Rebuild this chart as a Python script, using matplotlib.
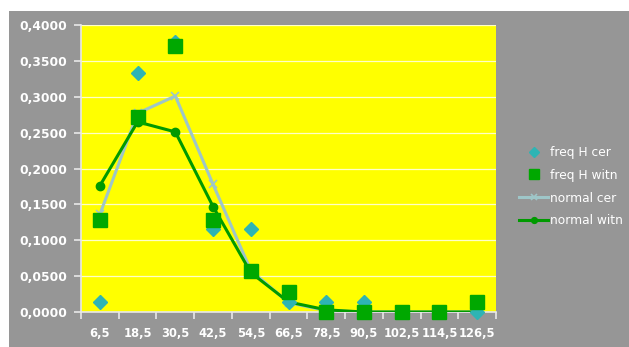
import matplotlib.pyplot as plt
from matplotlib.patches import Rectangle
from matplotlib.ticker import FuncFormatter, FixedLocator

# bin centres and frequencies
bins = ["6,5", "18,5", "30,5", "42,5", "54,5", "66,5", "78,5", "90,5", "102,5", "114,5", "126,5"]
freq_cer = [1/69, 23/69, 26/69, 8/69, 8/69, 1/69, 1/69, 1/69, 0.0, 0.0, 0.0]
freq_witn = [9/70, 19/70, 26/70, 9/70, 4/70, 2/70, 0.0, 0.0, 0.0, 0.0, 1/70]
normal_cer = [0.136, 0.277, 0.301, 0.178, 0.058, 0.013, 0.002, 0.0, 0.0, 0.0, 0.0]
normal_witn = [0.176, 0.265, 0.251, 0.147, 0.055, 0.014, 0.003, 0.0, 0.0, 0.0, 0.0]

W, H = 629, 347
fig = plt.figure(figsize=(W / 100, H / 100), dpi=100, facecolor="white")
# grey chart area
fig.add_artist(Rectangle((9 / W, 0), (W - 9) / W, (H - 11) / H,
                         transform=fig.transFigure, facecolor="#969696",
                         edgecolor="none", zorder=-10))

ax = fig.add_axes([81 / W, 35 / H, 415 / W, 287 / H])
ax.set_facecolor("#FFFF00")
x = list(range(len(bins)))

ax.plot(x, normal_cer, color="#9EC6C8", lw=2.2, marker="x", ms=6, mew=1.2,
        label="normal cer", zorder=3)
ax.plot(x, normal_witn, color="#009A00", lw=2.2, marker="o", ms=6,
        label="normal witn", zorder=4)
ax.plot(x, freq_cer, ls="none", marker="D", ms=6.8, color="#2EB4B4",
        label="freq H cer", zorder=5, clip_on=False)
ax.plot(x, freq_witn, ls="none", marker="s", ms=9.5, color="#00A800",
        label="freq H witn", zorder=6, clip_on=False)

ax.set_xlim(-0.5, len(bins) - 0.5)
ax.set_ylim(0, 0.4)
ax.set_yticks([i * 0.05 for i in range(9)])
ax.yaxis.set_major_formatter(FuncFormatter(lambda v, p: f"{v:.4f}".replace(".", ",")))
ax.xaxis.set_major_locator(FixedLocator([i - 0.5 for i in range(len(bins) + 1)]))
ax.xaxis.set_minor_locator(FixedLocator(x))
ax.set_xticklabels([])
ax.set_xticklabels(bins, minor=True)

ax.grid(axis="y", color="#FFFFC8", lw=0.9)
ax.set_axisbelow(True)
for s in ["top", "right"]:
    ax.spines[s].set_visible(False)
for s in ["left", "bottom"]:
    ax.spines[s].set_color("#E8E8E8")
    ax.spines[s].set_linewidth(1.2)
ax.tick_params(axis="y", colors="#E8E8E8", length=5, width=1.2, labelcolor="white",
               labelsize=8.8, pad=5)
ax.tick_params(axis="x", which="major", colors="#E8E8E8", length=5, width=1.2)
ax.tick_params(axis="x", which="minor", length=0, labelcolor="white", labelsize=8.3, pad=11)
for t in ax.get_yticklabels() + ax.get_xticklabels(minor=True):
    t.set_fontweight("bold")

h, l = ax.get_legend_handles_labels()
order = [2, 3, 0, 1]
leg = fig.legend([h[i] for i in order], [l[i] for i in order],
                 loc="upper left", bbox_to_anchor=(508 / W, 1 - 135 / H),
                 frameon=False, fontsize=8.8, labelcolor="white",
                 handlelength=2.4, handletextpad=0.1, labelspacing=0.8,
                 markerscale=0.7)

fig.savefig("out.png", dpi=100, facecolor="white")
